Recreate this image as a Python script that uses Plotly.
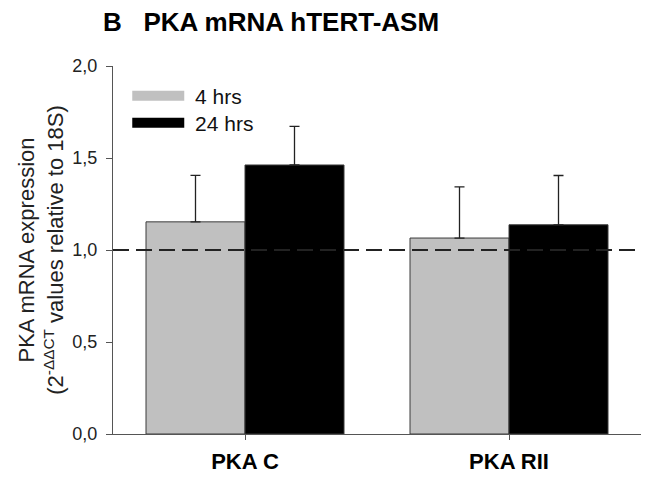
import plotly.graph_objects as go

categories = ["PKA C", "PKA RII"]
category_labels = ["<b>PKA C</b>", "<b>PKA RII</b>"]
series_names = ["4 hrs", "24 hrs"]
values_4h = [1.153, 1.065]
values_24h = [1.462, 1.137]
err_4h = [0.253, 0.278]
err_24h = [0.21, 0.268]
reference_level = 1.0
y_ticks = [0.0, 0.5, 1.0, 1.5, 2.0]

FONT = "Liberation Sans, Arial, Helvetica, sans-serif"
colors = ["#c0c0c0", "#000000"]
legend_ids = ["legend", "legend2"]

fig = go.Figure()
for name, vals, errs, col, lg in zip(series_names, [values_4h, values_24h],
                                      [err_4h, err_24h], colors, legend_ids):
    fig.add_trace(go.Bar(
        x=categories, y=vals, name=name, showlegend=False,
        marker=dict(color=col, line=dict(color="#3a3a3a", width=1)),
        error_y=dict(type="data", array=errs, arrayminus=[0] * len(errs), symmetric=False,
                     color="#222222", thickness=1.3, width=5),
    ))
    # legend proxies (wide rectangular swatches)
    fig.add_trace(go.Scatter(
        x=[None], y=[None], mode="lines", name="\u00a0" + name, legend=lg,
        line=dict(color=col, width=10),
    ))

fig.add_hline(y=reference_level, line=dict(color="#222222", width=2, dash="16px,7px"))

legend_common = dict(xanchor="left", yanchor="middle", bgcolor="rgba(0,0,0,0)",
                     font=dict(size=21, color="#111111"), itemwidth=52)

fig.update_layout(
    width=646, height=482,
    margin=dict(l=113, r=5, t=66, b=48),
    paper_bgcolor="white", plot_bgcolor="white",
    barmode="group", bargap=0.25, bargroupgap=0,
    separators=",.",
    font=dict(family=FONT, size=18, color="#111111"),
    title=dict(text="<b>B   PKA mRNA hTERT-ASM</b>", x=103 / 646, xanchor="left",
               y=1 - 21.5 / 482, yanchor="middle", font=dict(size=26, color="#000000")),
    legend=dict(x=0.027, y=1 - 30 / 368, **legend_common),
    legend2=dict(x=0.027, y=1 - 57 / 368, **legend_common),
    xaxis=dict(type="category", range=[-0.5, 1.5], showline=True, linecolor="#555555",
               linewidth=1.3, ticks="outside", ticklen=5, tickcolor="#555555",
               tickvals=categories, ticktext=category_labels, ticklabelstandoff=2,
               tickfont=dict(size=22, color="#000000"), showgrid=False, zeroline=False),
    yaxis=dict(range=[0, 2.0], tickvals=y_ticks, tickformat=".1f", showline=True,
               linecolor="#555555", linewidth=1.3, ticks="outside", ticklen=6,
               tickcolor="#555555", showgrid=False, zeroline=False, ticklabelstandoff=5,
               tickfont=dict(size=18, color="#222222"),
               title=dict(text="PKA mRNA expression<br>(2<sup>-ΔΔCT</sup> values relative to 18S)",
                          font=dict(size=22, color="#222222"), standoff=2)),
)

fig.write_html("out.html", config={"displayModeBar": False},
               post_script="document.body.style.margin='0';")
